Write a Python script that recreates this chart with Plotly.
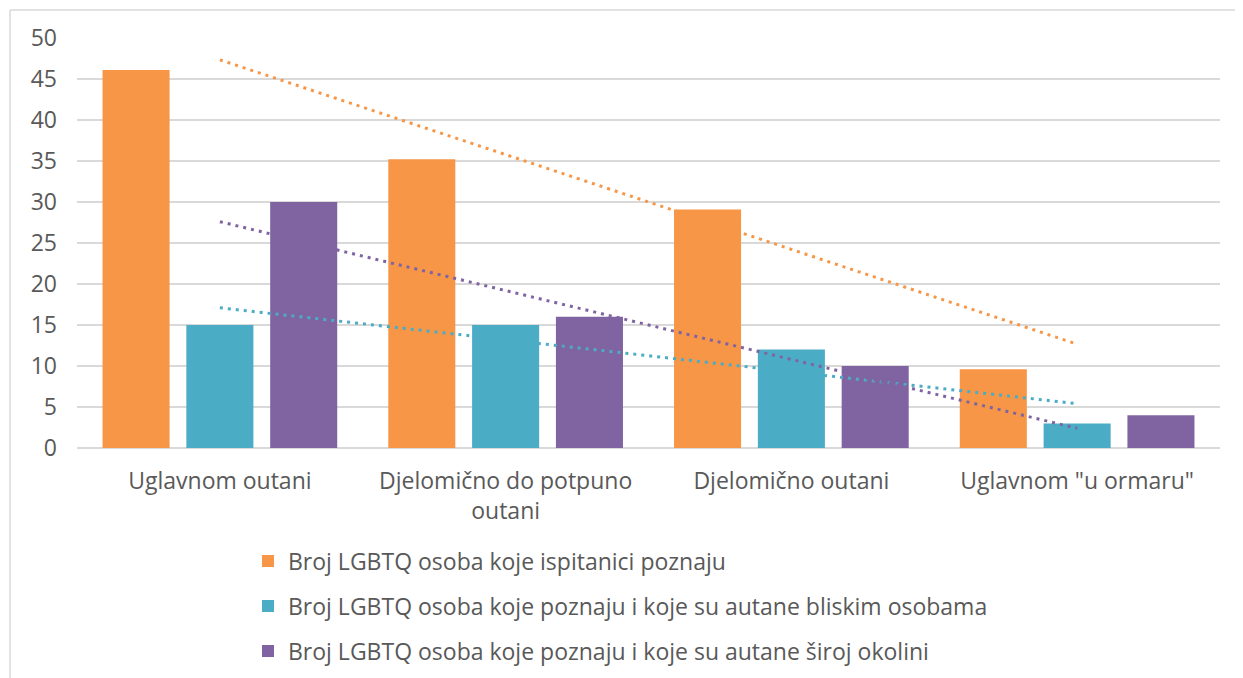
import numpy as np
import plotly.graph_objects as go

categories = ["Uglavnom outani", "Djelomično do potpuno<br>outani", "Djelomično outani", "Uglavnom \"u ormaru\""]
series_names = [
    "Broj LGBTQ osoba koje ispitanici poznaju",
    "Broj LGBTQ osoba koje poznaju i koje su autane bliskim osobama",
    "Broj LGBTQ osoba koje poznaju i koje su autane široj okolini",
]
known = [46.1, 35.2, 29.1, 9.6]
out_close = [15, 15, 12, 3]
out_wide = [30, 16, 10, 4]
colors = ["#F79646", "#4BACC6", "#8064A2"]
y_ticks = [0, 5, 10, 15, 20, 25, 30, 35, 40, 45, 50]

OFF = 8  # page body margin
W, H = 1243 - OFF, 678 - OFF
L, R, T, B = 77 - OFF, 23, 38 - OFF, 230
PW, PH = W - L - R, H - T - B

legend_ids = ["legend", "legend2", "legend3"]
legend_centers = [561, 606, 651]

fig = go.Figure()
series = [known, out_close, out_wide]
for i, (name, vals, col) in enumerate(zip(series_names, series, colors)):
    fig.add_trace(go.Bar(
        x=categories, y=vals, name=name, marker=dict(color=col, line=dict(width=0)),
        legend=legend_ids[i],
    ))

# linear trendlines computed from the data
xi = np.arange(1, len(categories) + 1)
for i, (vals, col) in enumerate(zip(series, colors)):
    slope, intercept = np.polyfit(xi, vals, 1)
    fit = slope * xi + intercept
    fig.add_trace(go.Scatter(
        x=categories, y=fit, mode="lines", showlegend=False, hoverinfo="skip",
        line=dict(color=col, width=3, dash="3px,5px"),
    ))

font = "'Open Sans', Lato, sans-serif"
FS = 23
bx = (10 - OFF - L) / PW
by = (H - B - (10 - OFF)) / PH

legends = {}
for lid, cy in zip(legend_ids, legend_centers):
    legends[lid] = dict(
        orientation="v", xref="container", yref="container",
        x=(248 - OFF) / W, xanchor="left",
        y=1 - (cy - OFF) / H, yanchor="middle",
        font=dict(size=FS, color="#595959"),
        itemwidth=30, bgcolor="rgba(0,0,0,0)",
    )

fig.update_layout(
    template="none",
    width=W, height=H,
    margin=dict(l=L, r=R, t=T, b=B, autoexpand=False),
    paper_bgcolor="white", plot_bgcolor="white",
    barmode="group", bargap=0.12, bargroupgap=0.2,
    font=dict(family=font, size=FS, color="#595959"),
    showlegend=True,
    xaxis=dict(
        showgrid=False, showline=False, ticks="", tickfont=dict(size=FS),
        ticklabelstandoff=17, automargin=False,
    ),
    yaxis=dict(
        range=[0, 50], tickvals=y_ticks, showgrid=True, gridcolor="#D9D9D9",
        gridwidth=1.5, zeroline=True, zerolinecolor="#D9D9D9", zerolinewidth=1.5,
        showline=False, ticks="", tickfont=dict(size=FS), ticklabelstandoff=19,
        automargin=False,
    ),
    shapes=[
        dict(type="line", xref="paper", yref="paper",
             x0=bx, x1=1.05, y0=by, y1=by,
             line=dict(color="#D9D9D9", width=1.5)),
        dict(type="line", xref="paper", yref="paper",
             x0=bx, x1=bx, y0=by, y1=-0.7,
             line=dict(color="#D9D9D9", width=1.5)),
    ],
    **legends,
)

fig.write_html("out.html")
